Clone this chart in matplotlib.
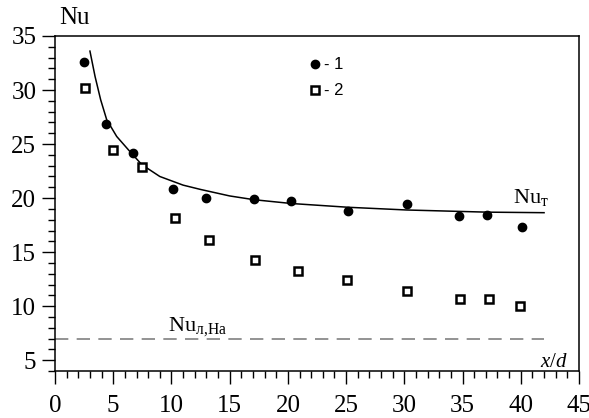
import numpy as np
import matplotlib
matplotlib.use("Agg")
import matplotlib.pyplot as plt
from matplotlib.ticker import MultipleLocator

plt.rcParams["font.family"] = ["Liberation Serif", "DejaVu Serif"]
plt.rcParams["mathtext.fontset"] = "custom"
plt.rcParams["mathtext.rm"] = "Liberation Serif"
plt.rcParams["mathtext.it"] = "Liberation Serif:italic"

# series 1 (filled circles)
x1 = [2.5, 4.4, 6.7, 10.1, 13.0, 17.1, 20.3, 25.2, 30.2, 34.7, 37.1, 40.1]
nu1 = [32.6, 26.9, 24.2, 20.8, 20.05, 19.9, 19.7, 18.8, 19.5, 18.3, 18.45, 17.3]
# series 2 (open squares)
x2 = [2.55, 4.95, 7.45, 10.3, 13.25, 17.2, 20.9, 25.1, 30.2, 34.8, 37.3, 39.9]
nu2 = [30.2, 24.45, 22.9, 18.15, 16.15, 14.25, 13.3, 12.45, 11.45, 10.65, 10.7, 10.0]
# turbulent curve Nu_T
xt = [3.0, 3.44, 3.92, 4.44, 5.3, 6.44, 7.45, 9.0, 11.0, 12.5, 15.0, 17.1,
      20.3, 25.2, 30.2, 37.1, 42.0]
nut = [33.6, 31.25, 29.1, 27.25, 25.7, 24.3, 23.1, 22.0, 21.2, 20.8, 20.2,
       19.85, 19.5, 19.15, 18.9, 18.7, 18.65]
# laminar level Nu_l,Ha
nu_lam = 7.0
x_lam = [0.0, 42.0]

fig = plt.figure(figsize=(5.89, 4.18), dpi=100)
ax = fig.add_axes([0.0934, 0.1124, 0.8896, 0.8015])

ax.plot(xt, nut, color="black", lw=1.1, zorder=2)
ax.plot(x_lam, [nu_lam, nu_lam], color="#808080", lw=1.2, dashes=(8, 5), zorder=2)
ax.plot(x1, nu1, "o", ms=6, color="black", mec="black", zorder=3)
ax.plot(x2, nu2, "s", ms=5.5, mfc="white", mec="black", mew=1.8, zorder=3)

# legend drawn by hand as in the original
ax.plot([22.3], [32.4], "o", ms=6, color="black")
ax.plot([22.3], [30.0], "s", ms=5.5, mfc="white", mec="black", mew=1.8)
ax.text(23.1, 32.4, "- 1", family="Liberation Sans", fontsize=12, va="center")
ax.text(23.1, 30.0, "- 2", family="Liberation Sans", fontsize=12, va="center")

ax.text(39.3, 19.55, r"Nu$_{\mathrm{т}}$", fontsize=16, va="baseline")
ax.text(9.7, 7.75, r"Nu$_{\mathrm{л{,}На}}$", fontsize=16, va="baseline")
ax.text(44.0, 4.35, r"$x/d$", fontsize=15, ha="right", va="baseline")
ax.text(0.008, 1.02, "Nu", transform=ax.transAxes, fontsize=18,
        va="bottom", ha="left")

ax.set_xlim(0, 45)
ax.set_ylim(4, 35)
ax.xaxis.set_major_locator(MultipleLocator(5))
ax.xaxis.set_minor_locator(MultipleLocator(1))
ax.yaxis.set_major_locator(MultipleLocator(5))
ax.yaxis.set_minor_locator(MultipleLocator(1))
ax.set_yticks([5, 10, 15, 20, 25, 30, 35])
ax.tick_params(which="major", length=9.5, width=1.0, labelsize=18)
ax.tick_params(which="minor", length=5, width=1.0)
ax.tick_params(axis="x", which="major", pad=8)
ax.tick_params(axis="y", which="major", pad=4)
for sp in ax.spines.values():
    sp.set_linewidth(1.1)

fig.savefig("out.png", dpi=100, facecolor="white")
